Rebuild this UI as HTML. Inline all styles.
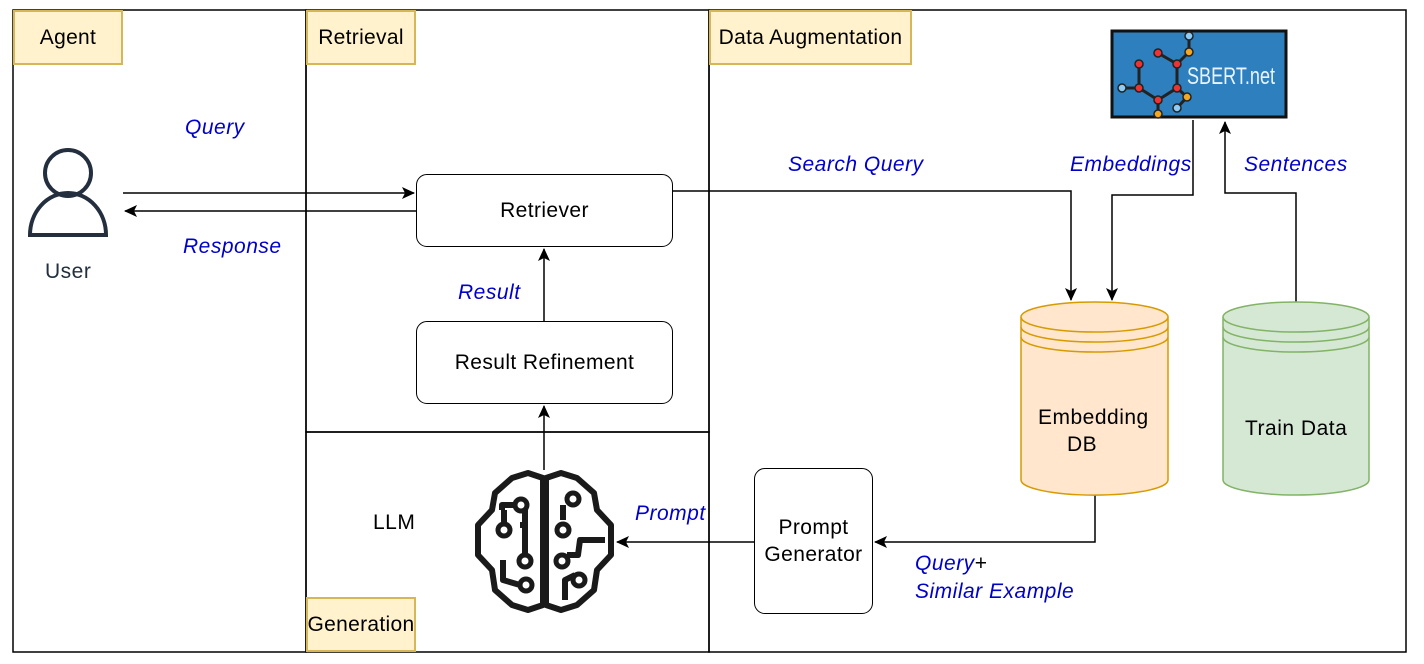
<!DOCTYPE html>
<html><head><style>
body{margin:0;background:#fff;width:1424px;height:664px;overflow:hidden;font-family:"Liberation Sans",sans-serif}
.a{position:absolute}
.t{position:absolute;font-size:21px;letter-spacing:0.5px;color:#000;white-space:nowrap}
.b{color:#0000cc;font-style:italic}
.hdr{position:absolute;background:#fff2cc;border:2px solid #d6b656;box-sizing:border-box;display:flex;align-items:center;justify-content:center;font-size:21px;letter-spacing:0.3px}
.box{position:absolute;border:1.5px solid #000;border-radius:11px;box-sizing:border-box;display:flex;align-items:center;justify-content:center;text-align:center;font-size:21px;letter-spacing:0.4px;background:#fff}
</style></head><body>
<svg class="a" style="left:0;top:0" width="1424" height="664">
<defs><marker id="m" markerWidth="14" markerHeight="14" refX="12" refY="6" orient="auto" markerUnits="userSpaceOnUse"><path d="M0,0 L13,6 L0,12 L3,6 Z" fill="#000"/></marker></defs>
<g fill="none" stroke="#000" stroke-width="1.5">
<rect x="13" y="10" width="293" height="642"/>
<rect x="306" y="10" width="403" height="422"/>
<rect x="306" y="432" width="403" height="220"/>
<rect x="709" y="10" width="697" height="642"/>
<line x1="123" y1="193" x2="414" y2="193" marker-end="url(#m)"/>
<line x1="416" y1="211" x2="125" y2="211" marker-end="url(#m)"/>
<polyline points="673,191 1071,191 1071,300" marker-end="url(#m)"/>
<polyline points="1193,120 1193,195 1112,195 1112,300" marker-end="url(#m)"/>
<polyline points="1296,302 1296,193 1225,193 1225,122" marker-end="url(#m)"/>
<polyline points="1095,495 1095,542 875,542" marker-end="url(#m)"/>
<line x1="754" y1="542" x2="617" y2="542" marker-end="url(#m)"/>
<line x1="544" y1="470" x2="544" y2="406" marker-end="url(#m)"/>
<line x1="544" y1="321" x2="544" y2="249" marker-end="url(#m)"/>
</g>
<g fill="none" stroke="#232f3e" stroke-width="4">
<circle cx="68" cy="173" r="23"/>
<path d="M30,235 A38,42 0 0 1 106,235 Z"/>
</g>
<g stroke="#d79b00" stroke-width="1.5" fill="#ffe6cc">
<path d="M1021,317 L1021,480 A73,15 0 0 0 1168,480 L1168,317"/>
<ellipse cx="1094.5" cy="317" rx="73.5" ry="15"/>
<path d="M1021,327 A73.5,15 0 0 0 1168,327 M1021,337 A73.5,15 0 0 0 1168,337" fill="none"/>
</g>
<g stroke="#82b366" stroke-width="1.5" fill="#d5e8d4">
<path d="M1223,317 L1223,480 A73,15 0 0 0 1369,480 L1369,317"/>
<ellipse cx="1296" cy="317" rx="73" ry="15"/>
<path d="M1223,327 A73,15 0 0 0 1369,327 M1223,337 A73,15 0 0 0 1369,337" fill="none"/>
</g>
<rect x="1112" y="31" width="174" height="86" fill="#2d7fbd" stroke="#111" stroke-width="3"/>
<g stroke="#222" stroke-width="3">
<polyline points="1158,53 1177,64 1177,88 1158,100 1139,88 1139,64" fill="none"/>
<line x1="1177" y1="64" x2="1189" y2="52"/><line x1="1189" y1="52" x2="1189" y2="36"/>
<line x1="1139" y1="88" x2="1122" y2="88"/><line x1="1158" y1="100" x2="1158" y2="114"/>
<line x1="1177" y1="88" x2="1187" y2="97"/><line x1="1187" y1="97" x2="1177" y2="108"/>
</g>
<g stroke="#222" stroke-width="1.5">
<circle cx="1158" cy="53" r="4" fill="#e33"/><circle cx="1177" cy="64" r="4" fill="#e33"/><circle cx="1177" cy="88" r="4" fill="#e33"/><circle cx="1158" cy="100" r="4" fill="#e33"/><circle cx="1139" cy="88" r="4" fill="#e33"/><circle cx="1139" cy="64" r="4" fill="#e33"/>
<circle cx="1189" cy="52" r="4" fill="#f5a623"/><circle cx="1189" cy="36" r="4" fill="#8ecbf5"/><circle cx="1122" cy="88" r="4" fill="#8ecbf5"/><circle cx="1158" cy="114" r="4" fill="#f5a623"/><circle cx="1187" cy="97" r="4" fill="#f5a623"/><circle cx="1177" cy="108" r="4" fill="#8ecbf5"/>
</g>
<text x="1187" y="84" font-family="Liberation Sans,sans-serif" font-size="24" fill="#e8f4ff" textLength="88" lengthAdjust="spacingAndGlyphs">SBERT.net</text>
<g fill="none" stroke="#1a1a1a" stroke-width="6" stroke-linejoin="round">
<path d="M543,478 L528,473 L512,478 L495,493 L492,510 L478,525 L478,555 L492,570 L495,590 L512,605 L528,610 L543,605 Z"/>
<path d="M546,478 L561,473 L577,478 L594,493 L597,510 L611,525 L611,555 L597,570 L594,590 L577,605 L561,610 L546,605 Z"/>
<path d="M502,510 L502,505 L515,505 M504,510 L504,525 M525,505 L525,565 M525,525 L520,525 M503,560 L503,580 L520,585 M563,505 L563,520 M568,500 L575,495 M567,555 L578,555 L580,540 L605,540 M565,600 L565,580 L575,575"/>
</g>
<g fill="#fff" stroke="#1a1a1a" stroke-width="5">
<circle cx="521" cy="505" r="6"/><circle cx="504" cy="530" r="6"/><circle cx="525" cy="561" r="6"/><circle cx="526" cy="585" r="6"/>
<circle cx="573" cy="499" r="6"/><circle cx="563" cy="530" r="6"/><circle cx="562" cy="561" r="6"/><circle cx="579" cy="580" r="6"/>
</g>
</svg>
<div class="hdr" style="left:13px;top:10px;width:110px;height:55px">Agent</div>
<div class="hdr" style="left:306px;top:10px;width:110px;height:55px">Retrieval</div>
<div class="hdr" style="left:709px;top:10px;width:203px;height:55px">Data Augmentation</div>
<div class="hdr" style="left:306px;top:597px;width:110px;height:55px">Generation</div>
<div class="box" style="left:416px;top:174px;width:257px;height:73px">Retriever</div>
<div class="box" style="left:416px;top:321px;width:257px;height:83px">Result Refinement</div>
<div class="box" style="left:754px;top:468px;width:119px;height:146px;line-height:27px">Prompt<br>Generator</div>
<div class="t" style="left:45px;top:260px;color:#232f3e">User</div>
<div class="t b" style="left:185px;top:116px">Query</div>
<div class="t b" style="left:183px;top:235px">Response</div>
<div class="t b" style="left:458px;top:281px">Result</div>
<div class="t" style="left:373px;top:511px">LLM</div>
<div class="t b" style="left:635px;top:502px">Prompt</div>
<div class="t b" style="left:788px;top:153px">Search Query</div>
<div class="t b" style="left:1070px;top:153px">Embeddings</div>
<div class="t b" style="left:1244px;top:153px">Sentences</div>
<div class="t" style="left:1038px;top:404px;line-height:27px">Embedding<br><span style="margin-left:29px">DB</span></div>
<div class="t" style="left:1245px;top:417px">Train Data</div>
<div class="t" style="left:915px;top:552px"><span class="b">Query</span>+</div>
<div class="t b" style="left:915px;top:580px">Similar Example</div>
</body></html>
